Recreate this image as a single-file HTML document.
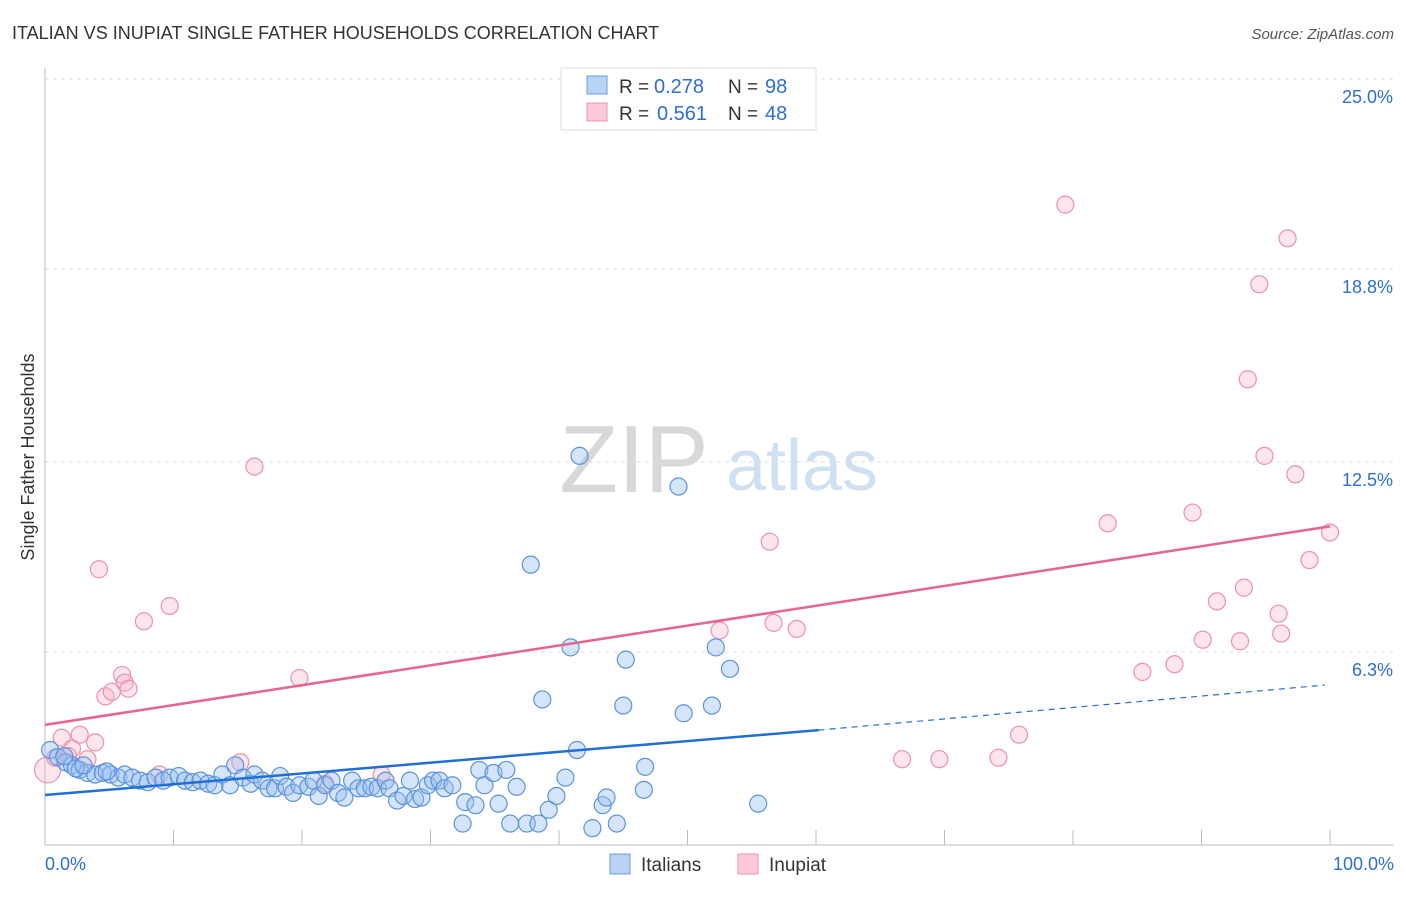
<!DOCTYPE html>
<html><head><meta charset="utf-8"><style>
body{margin:0;background:#fff;font-family:"Liberation Sans",sans-serif}
svg text{font-family:"Liberation Sans",sans-serif}
</style></head><body>
<svg id="chart" width="1406" height="892">
<text x="12" y="39" font-size="18" fill="#333">ITALIAN VS INUPIAT SINGLE FATHER HOUSEHOLDS CORRELATION CHART</text>
<text x="1394" y="39" font-size="15" fill="#555" font-style="italic" text-anchor="end">Source: ZipAtlas.com</text>
<text x="634" y="492" font-size="96" fill="#d8d8d8" font-family="Liberation Serif" text-anchor="middle">ZIP</text>
<text x="802" y="490" font-size="72" fill="#cfe0f3" text-anchor="middle">atlas</text>
<text transform="translate(34,457) rotate(-90)" font-size="18" fill="#333" text-anchor="middle">Single Father Households</text>
<g id="grid"></g><g id="pts"></g><g id="trend"></g>
<g>
<rect x="561" y="68" width="255" height="62" fill="#fff" stroke="#ddd"/>
<rect x="587" y="76" width="20" height="18" fill="#b9d3f5" stroke="#6a9be0"/>
<rect x="587" y="103" width="20" height="18" fill="#fcc9d8" stroke="#eb91ad"/>
<text x="619" y="93" font-size="19" fill="#333">R =</text>
<text x="654" y="93" font-size="20" fill="#2d6fd4">0.278</text>
<text x="728" y="93" font-size="19" fill="#333">N =</text>
<text x="765" y="93" font-size="20" fill="#2d6fd4">98</text>
<text x="619" y="120" font-size="19" fill="#333">R =</text>
<text x="657" y="120" font-size="20" fill="#2d6fd4">0.561</text>
<text x="728" y="120" font-size="19" fill="#333">N =</text>
<text x="765" y="120" font-size="20" fill="#2d6fd4">48</text>
</g>
<g>
<rect x="610" y="854" width="20" height="20" fill="#b9d3f5" stroke="#6a9be0"/>
<text x="641" y="871" font-size="19" fill="#333">Italians</text>
<rect x="738" y="854" width="20" height="20" fill="#fcc9d8" stroke="#eb91ad"/>
<text x="769" y="871" font-size="19" fill="#333">Inupiat</text>
</g>
</svg>
<script>
const yTicks=[6.3,12.5,18.8,25.0];
const xTickLabels=["0.0%","100.0%"];
const blueX=[0.4,1.0,1.6,2.1,2.7,3.3,3.9,4.5,5.1,5.7,6.2,6.8,7.4,8.0,8.6,9.2,9.7,10.4,10.9,11.5,12.1,12.7,13.2,13.8,14.4,14.8,15.4,16.0,16.3,16.9,17.4,17.9,18.3,18.8,19.3,19.8,20.5,20.9,21.3,21.8,22.3,22.8,23.3,23.9,24.4,24.9,25.4,25.9,26.5,26.8,27.4,27.9,28.4,28.8,29.3,29.8,30.2,30.7,31.1,31.7,32.5,32.7,33.5,33.8,34.2,34.9,35.3,35.9,36.2,36.7,37.5,37.8,38.4,38.7,39.2,39.8,40.5,40.9,41.4,41.6,42.6,43.4,43.7,44.5,45.0,45.2,46.6,46.7,49.3,49.7,51.9,52.2,53.3,55.5,1.5,2.4,3.0,4.8];
const blueY=[3.1,2.87,2.7,2.6,2.45,2.35,2.3,2.35,2.3,2.2,2.3,2.2,2.1,2.05,2.2,2.1,2.2,2.25,2.1,2.05,2.1,2.0,1.95,2.3,1.95,2.6,2.2,2.0,2.3,2.1,1.85,1.85,2.25,1.9,1.7,1.95,1.9,2.1,1.6,1.95,2.1,1.7,1.55,2.1,1.85,1.85,1.9,1.85,2.1,1.85,1.45,1.6,2.1,1.5,1.55,1.95,2.1,2.1,1.85,1.95,0.7,1.4,1.3,2.45,1.95,2.35,1.35,2.45,0.7,1.9,0.7,9.15,0.7,4.75,1.15,1.6,2.2,6.45,3.1,12.7,0.55,1.3,1.55,0.7,4.55,6.05,1.8,2.55,11.7,4.3,4.55,6.45,5.75,1.35,2.9,2.5,2.6,2.4];
const pinkX=[0.2,0.8,1.3,2.1,2.7,3.3,3.9,4.2,4.7,5.2,6.0,6.2,6.5,7.7,8.9,9.7,15.2,16.3,19.8,21.8,26.2,52.5,56.4,56.7,58.5,66.7,69.6,74.2,75.8,79.4,82.7,85.4,87.9,89.3,90.1,91.2,93.0,93.3,93.6,94.5,94.9,96.0,96.2,96.7,97.3,98.4,100.0,1.8];
const pinkY=[2.45,2.85,3.5,3.15,3.6,2.8,3.35,9.0,4.85,5.0,5.55,5.3,5.1,7.3,2.3,7.8,2.7,12.35,5.45,2.0,2.3,7.0,9.9,7.25,7.05,2.8,2.8,2.85,3.6,20.9,10.5,5.65,5.9,10.85,6.7,7.95,6.65,8.4,15.2,18.3,12.7,7.55,6.9,19.8,12.1,9.3,10.2,2.9];
const blueTrend=[1.63,3.75,5.22], blueTrendX=[0,60.2,99.6];
const pinkTrend=[3.92,10.4], pinkTrendX=[0,100];
const X=v=>45+v*12.85, Y=v=>845-v*30.64;
const NS="http://www.w3.org/2000/svg";
function mk(t,a,p){const e=document.createElementNS(NS,t);for(const k in a)e.setAttribute(k,a[k]);p.appendChild(e);return e;}
const g=document.getElementById('grid');
yTicks.forEach(t=>{
 const l=mk('line',{x1:45,x2:1394,y1:Y(t),y2:Y(t),stroke:'#ddd','stroke-dasharray':'4,4'},g);
 
 
 const tx=mk('text',{x:1393,y:Y(t)+24,'font-size':18,fill:'#2d6fd4','text-anchor':'end'},g);tx.textContent=t.toFixed(1)+'%';
 
 
});
const ax=mk('line',{x1:45,x2:1394,y1:845,y2:845,stroke:'#bbb'},g);


const ay=mk('line',{x1:45,x2:45,y1:68,y2:845,stroke:'#bbb'},g);


for(let i=0;i<=10;i++){const t=mk('line',{x1:X(i*10),x2:X(i*10),y1:830,y2:845,stroke:'#bbb'},g);
 
 }
[[0,'start',45],[1,'end',1394]].forEach(([i,a,x])=>{const t=mk('text',{x:x,y:870,'font-size':18,fill:'#2d6fd4','text-anchor':a},g);t.textContent=xTickLabels[i];
 
 });
const p=document.getElementById('pts');
pinkX.forEach((x,i)=>{const c=mk('circle',{cx:X(x),cy:Y(pinkY[i]),r:i==0?13:8.5,fill:'rgba(248,180,200,0.35)',stroke:'#eb91ad','stroke-width':1.2},p);
 
 });
blueX.forEach((x,i)=>{const c=mk('circle',{cx:X(x),cy:Y(blueY[i]),r:8.5,fill:'rgba(150,190,240,0.4)',stroke:'#5b93de','stroke-width':1.2},p);
 
 });
const tr=document.getElementById('trend');
const b1=mk('line',{x1:X(blueTrendX[0]),y1:Y(blueTrend[0]),x2:X(blueTrendX[1]),y2:Y(blueTrend[1]),stroke:'#1f6fd6','stroke-width':2.5},tr);


const b2=mk('line',{x1:X(blueTrendX[1]),y1:Y(blueTrend[1]),x2:X(blueTrendX[2]),y2:Y(blueTrend[2]),stroke:'#1f6fd6','stroke-width':1.2,'stroke-dasharray':'6,5'},tr);


const p1=mk('line',{x1:X(pinkTrendX[0]),y1:Y(pinkTrend[0]),x2:X(pinkTrendX[1]),y2:Y(pinkTrend[1]),stroke:'#e8638f','stroke-width':2.5},tr);


</script>
</body></html>
